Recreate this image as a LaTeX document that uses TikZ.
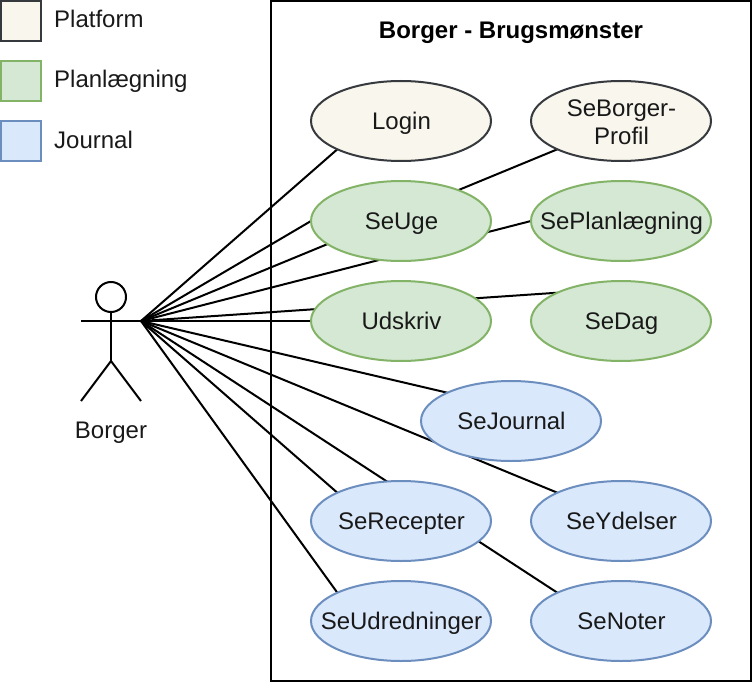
\documentclass[tikz,border=0pt]{standalone}
\usepackage{fontspec}
\setmainfont{Liberation Sans}
\usetikzlibrary{shapes.geometric,backgrounds}
\definecolor{platF}{HTML}{F9F7ED}\definecolor{platD}{HTML}{36393D}
\definecolor{planF}{HTML}{D5E8D4}\definecolor{planD}{HTML}{82B366}
\definecolor{jourF}{HTML}{DAE8FC}\definecolor{jourD}{HTML}{6C8EBF}
\tikzset{
 uc/.style={ellipse,minimum width=180pt,minimum height=80pt,inner sep=0pt,outer sep=0pt,line width=2pt},
 uctext/.style={font=\fontsize{24}{27.5}\selectfont,align=center,inner sep=0pt,xshift=0.5pt,yshift=-2.6pt,text=black!90,text height=17.2pt,text depth=5pt},
 ucwide/.style={font=\fontsize{24}{27.5}\selectfont,align=center,inner sep=0pt,xshift=0.5pt,yshift=-1pt,text=black!90},
 plat/.style={fill=platF,draw=platD},
 plan/.style={fill=planF,draw=planD},
 jour/.style={fill=jourF,draw=jourD},
 swatch/.style={rectangle,minimum size=40pt,inner sep=0pt,outer sep=0pt,line width=2pt},
 legendtext/.style={anchor=base west,inner sep=0pt,font=\fontsize{24}{28}\selectfont,text=black!90},
 conn/.style={black,line width=2pt},
 frame/.style={rectangle,draw=black,line width=2pt,minimum width=480pt,minimum height=680pt,inner sep=0pt,outer sep=0pt},
 figline/.style={black,line width=2pt}
}
\begin{document}
\begin{tikzpicture}[x=1pt,y=-1pt]
\useasboundingbox (0,0) rectangle (752,682);
\node[frame] (box) at (511,341) {};
\node[font=\bfseries\fontsize{24}{28}\selectfont] (title) at (511,33) {Borger - Brugsmønster};
\node[swatch,plat] (k1) at (21,21) {};
\node[swatch,plan] (k2) at (21,81) {};
\node[swatch,jour] (k3) at (21,141) {};
\node[legendtext] (t1) at (54,28) {Platform};
\node[legendtext] (t2) at (54,88) {Planlægning};
\node[legendtext] (t3) at (54,148) {Journal};
\node[uc,plat,label={[uctext]center:Login}] (login) at (401,121) {};
\node[uc,plat,label={[ucwide]center:SeBorger-\\Profil}] (profil) at (621,121) {};
\node[uc,plan,label={[uctext]center:SeUge}] (uge) at (401,221) {};
\node[uc,plan,label={[uctext]center:SePlanlægning}] (plg) at (621,221) {};
\node[uc,plan,label={[uctext]center:Udskriv}] (uds) at (401,321) {};
\node[uc,plan,label={[uctext]center:SeDag}] (dag) at (621,321) {};
\node[uc,jour,label={[uctext]center:SeJournal}] (jou) at (511,421) {};
\node[uc,jour,label={[uctext]center:SeRecepter}] (rec) at (401,521) {};
\node[uc,jour,label={[uctext]center:SeYdelser}] (yde) at (621,521) {};
\node[uc,jour,label={[uctext]center:SeUdredninger}] (udr) at (401,621) {};
\node[uc,jour,label={[uctext]center:SeNoter}] (not) at (621,621) {};
\coordinate (hub) at (141,321);
\coordinate (armL) at (81,321);
\coordinate (hip) at (111,361);
\coordinate (legL) at (81,401);
\coordinate (legR) at (141,401);
\node[circle,draw=black,line width=2pt,fill=white,minimum size=30pt,inner sep=0pt,outer sep=0pt] (head) at (111,297) {};
\node[font=\fontsize{24}{28}\selectfont,anchor=base,inner sep=0pt,text=black!90] (borger) at (111,438) {Borger};
\draw[figline] (head.south) -- (hip);
\draw[figline] (armL) -- (hub);
\draw[figline] (legL) -- (hip) -- (legR);
\begin{scope}[on background layer]
\draw[conn] (hub) -- (login.south west);
\draw[conn] (hub) -- (profil.south west);
\draw[conn] (hub) -- (uge.west);
\draw[conn] (hub) -- (plg.west);
\draw[conn] (hub) -- (uds.west);
\draw[conn] (hub) -- (dag.north west);
\draw[conn] (hub) -- (jou.north west);
\draw[conn] (hub) -- (yde.north west);
\draw[conn] (hub) -- (rec.north west);
\draw[conn] (hub) -- (not.north west);
\draw[conn] (hub) -- (udr.north west);
\end{scope}
\end{tikzpicture}
\end{document}
